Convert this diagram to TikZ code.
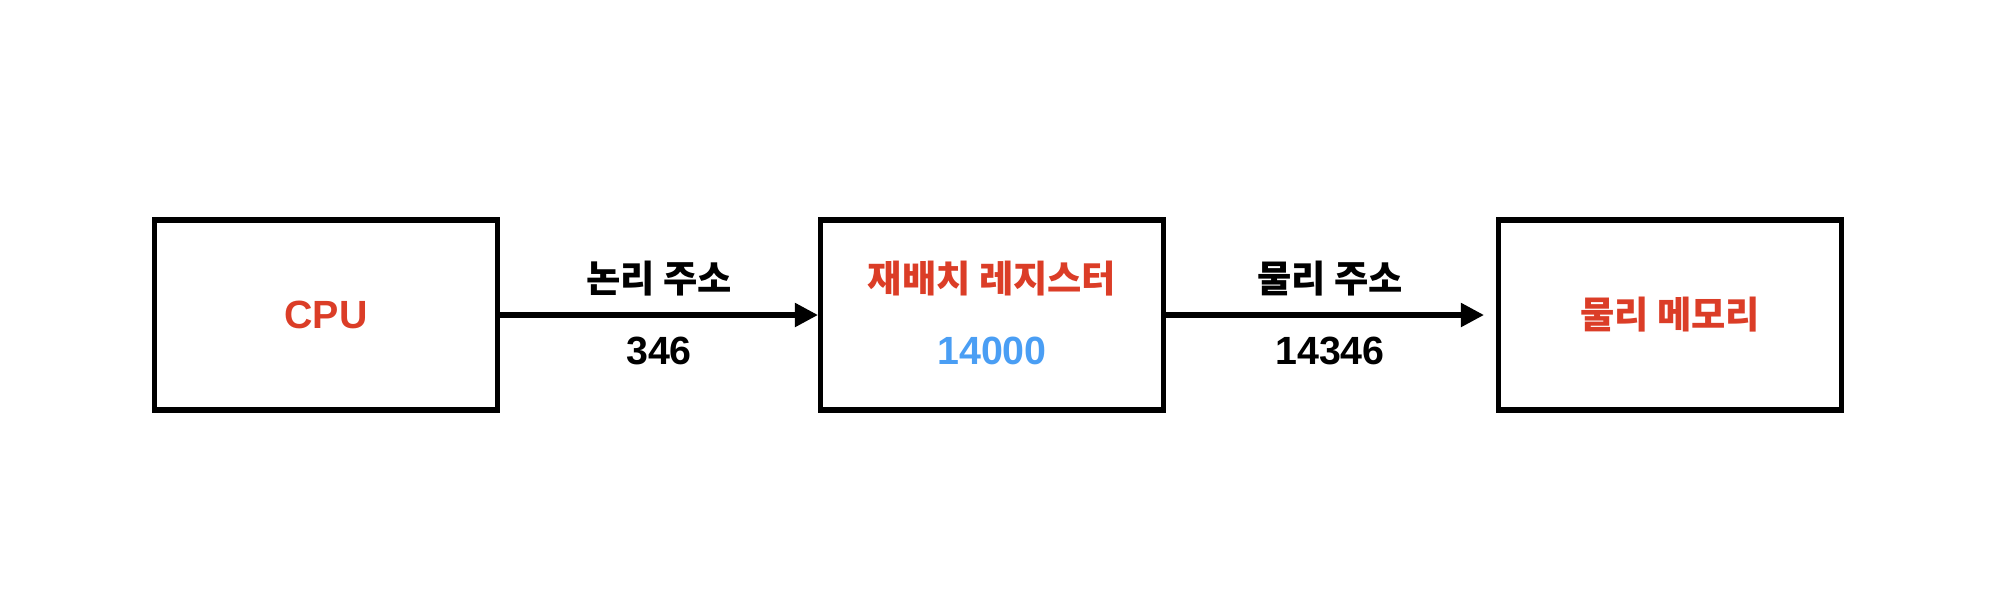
\documentclass[tikz,border=0pt]{standalone}
\usepackage{fontspec}
\usetikzlibrary{arrows.meta,positioning}
\setmainfont{Liberation Sans}
\newfontfamily\krfont{Noto Sans CJK KR}
\definecolor{regred}{HTML}{DB3D27}
\definecolor{valblue}{HTML}{4A9EF4}

\begin{document}
\begin{tikzpicture}[
    font=\bfseries\fontsize{11.2}{13}\selectfont,
    % Estilos de cajas y textos
    box/.style={draw=black, line width=1.45pt, minimum width=3.43cm, minimum height=1.90cm, inner sep=0pt},
    krtxt/.style={font=\krfont\bfseries\fontsize{10.6}{12}\selectfont},
    conn/.style={line width=1.45pt, -{Triangle[length=2.3mm, width=2.3mm]}}
]
\useasboundingbox (0,0) rectangle (19.92,6.08);

% ==========================================
% CAJAS
% ==========================================
\node[box] (cpu) at (3.26, 2.93) {};
\node[box] (reg) at (9.92, 2.93) {};
\node[box] (mem) at (16.70, 2.93) {};

% Textos de las cajas
\node[text=regred] (cpulbl) at (cpu) {CPU};
\node[krtxt, text=regred] (reglbl) at (9.92, 3.29) {재배치 레지스터};
\node[text=valblue] (regval) at (9.92, 2.57) {14000};
\node[krtxt, text=regred] (memlbl) at (mem) {물리 메모리};

% ==========================================
% FLECHAS Y DIRECCIONES
% ==========================================
\draw[conn] (cpu.east) -- (reg.west);
\draw[conn, shorten >=1.2mm] (reg.east) -- (mem.west);

\node[krtxt] (logaddr) at (6.59, 3.29) {논리 주소};
\node (logval) at (6.59, 2.57) {346};
\node[krtxt] (phyaddr) at (13.30, 3.29) {물리 주소};
\node (phyval) at (13.30, 2.57) {14346};

\end{tikzpicture}
\end{document}
